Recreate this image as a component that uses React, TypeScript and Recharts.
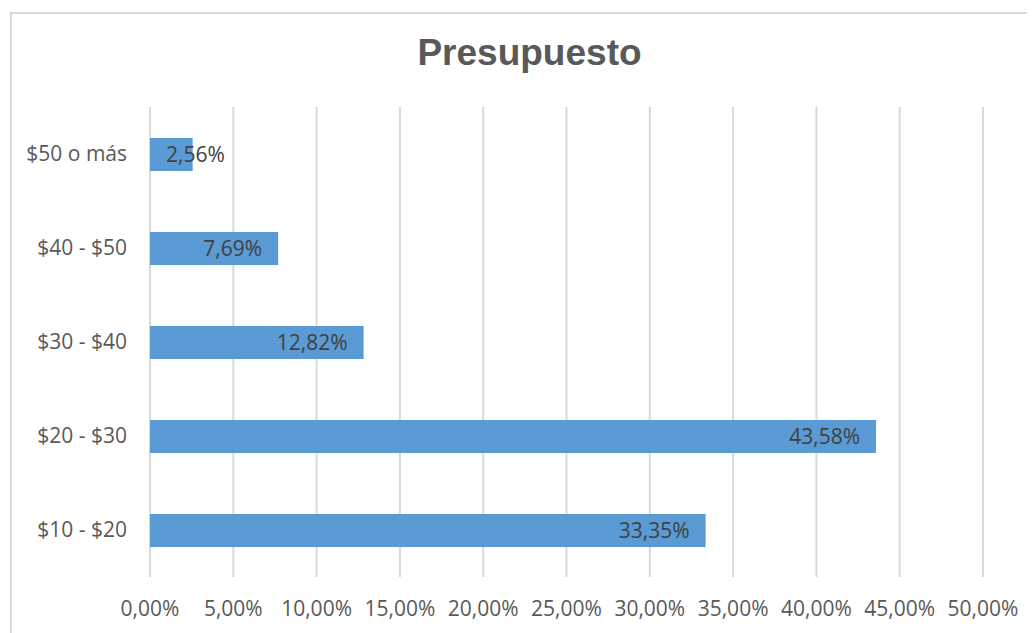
import React from "react";
import { BarChart, Bar, XAxis, YAxis, CartesianGrid, LabelList } from "recharts";

const categories = ["$50 o más", "$40 - $50", "$30 - $40", "$20 - $30", "$10 - $20"];
const values = [2.56, 7.69, 12.82, 43.58, 33.35];
const labels = ["2,56%", "7,69%", "12,82%", "43,58%", "33,35%"];
const xTicks = [0, 5, 10, 15, 20, 25, 30, 35, 40, 45, 50];

const data = categories.map((c, i) => ({ name: c, value: values[i], label: labels[i] }));

const fmt = (v: number) => v.toFixed(2).replace(".", ",") + "%";

const FONT = "'Open Sans', sans-serif";

const renderLabel = (props: any) => {
  const { x, y, width, height, index } = props;
  const text = labels[index];
  const estW = text.length * 12;
  const endX = x + width - 16;
  const fits = endX - estW >= x + 16;
  return (
    <text
      x={fits ? endX : x + 16}
      y={y + height / 2}
      dy="0.35em"
      textAnchor={fits ? "end" : "start"}
      fill="#404040"
      fontSize={21}
      fontFamily={FONT}
    >
      {text}
    </text>
  );
};

export default function App() {
  return (
    <div style={{ position: "relative", marginLeft: -8, marginTop: -8, width: 1035, height: 633, overflow: "hidden", background: "#fff" }}>
      <div style={{ position: "absolute", left: 10, top: 12, width: 1040, height: 640, border: "2px solid #d9d9d9", boxSizing: "border-box" }} />
      <div style={{ position: "absolute", left: 0, top: 31, width: 1059, textAlign: "center", fontFamily: "'Liberation Sans', Arial, sans-serif", fontWeight: "bold", fontSize: 37, color: "#595959", lineHeight: "44px" }}>
        Presupuesto
      </div>
      <div style={{ position: "absolute", left: 0, top: 0 }}>
        <BarChart
          width={1035}
          height={633}
          data={data}
          layout="vertical"
          margin={{ top: 107, right: 52, bottom: 0, left: 0 }}
          barCategoryGap={30}
        >
          <CartesianGrid horizontal={false} vertical={true} stroke="#d9d9d9" strokeWidth={2} />
          <XAxis
            type="number"
            domain={[0, 50]}
            ticks={xTicks}
            tickFormatter={fmt}
            axisLine={false}
            tickLine={false}
            tickSize={0}
            tickMargin={24}
            height={56}
            interval={0}
            tick={{ fill: "#595959", fontSize: 21, fontFamily: FONT }}
          />
          <YAxis
            type="category"
            dataKey="name"
            width={150}
            axisLine={false}
            tickLine={false}
            tickSize={0}
            tickMargin={23}
            tick={{ fill: "#595959", fontSize: 21, fontFamily: FONT }}
          />
          <Bar dataKey="value" fill="#5b9bd5" barSize={33} isAnimationActive={false}>
            <LabelList dataKey="label" content={renderLabel} />
          </Bar>
        </BarChart>
      </div>
    </div>
  );
}
